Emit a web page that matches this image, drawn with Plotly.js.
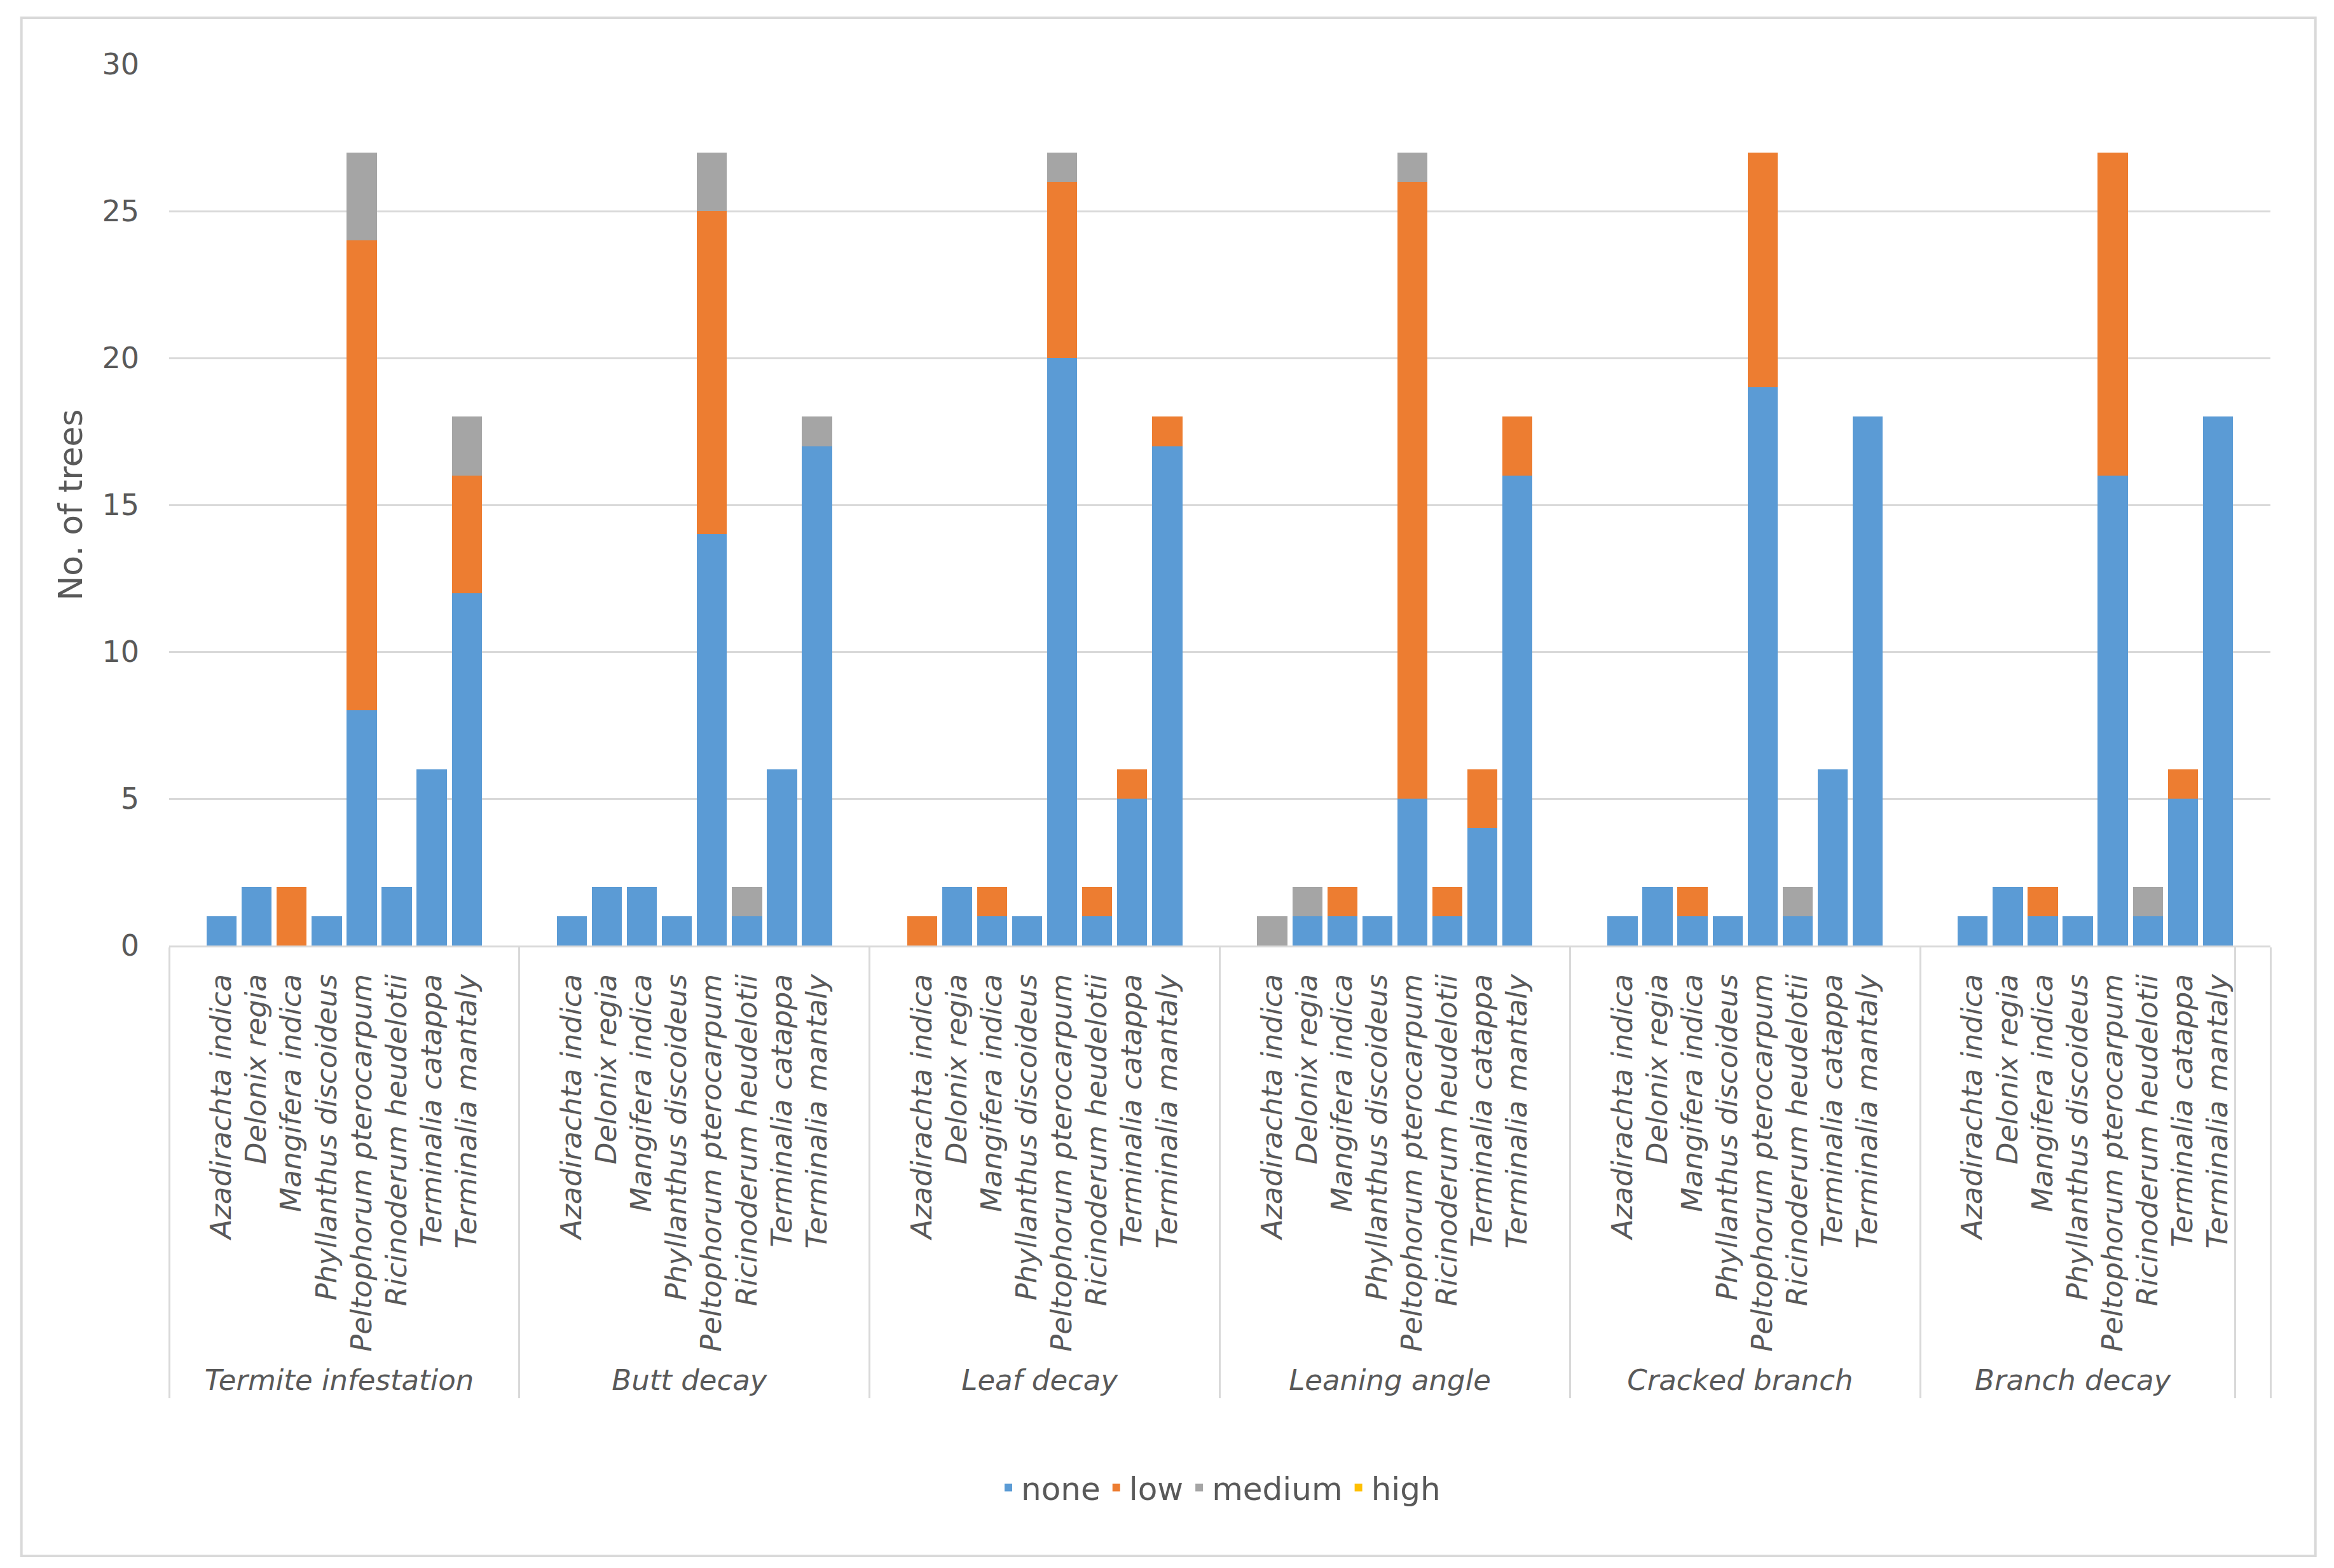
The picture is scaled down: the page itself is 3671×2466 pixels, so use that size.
<!DOCTYPE html>
<html>
<head>
<meta charset="utf-8">
<script src="https://cdn.plot.ly/plotly-3.0.1.min.js"></script>
<style>
html,body{margin:0;padding:0;background:#fff;}
#chart{width:3671px;height:2466px;}
</style>
</head>
<body>
<div id="chart"></div>
<script>
// Categories
const species = ["Azadirachta indica", "Delonix regia", "Mangifera indica", "Phyllanthus discoideus",
  "Peltophorum pterocarpum", "Ricinoderum heudelotii", "Terminalia catappa", "Terminalia mantaly"];
const groups = ["Termite infestation", "Butt decay", "Leaf decay", "Leaning angle", "Cracked branch", "Branch decay"];
const levels = ["none", "low", "medium", "high"];

// Series values: one row of 8 species per group
const noneVals = [
  [1, 2, 0, 1, 8, 2, 6, 12],    // Termite infestation
  [1, 2, 2, 1, 14, 1, 6, 17],   // Butt decay
  [0, 2, 1, 1, 20, 1, 5, 17],   // Leaf decay
  [0, 1, 1, 1, 5, 1, 4, 16],    // Leaning angle
  [1, 2, 1, 1, 19, 1, 6, 18],   // Cracked branch
  [1, 2, 1, 1, 16, 1, 5, 18]    // Branch decay
];
const lowVals = [
  [0, 0, 2, 0, 16, 0, 0, 4],
  [0, 0, 0, 0, 11, 0, 0, 0],
  [1, 0, 1, 0, 6, 1, 1, 1],
  [0, 0, 1, 0, 21, 1, 2, 2],
  [0, 0, 1, 0, 8, 0, 0, 0],
  [0, 0, 1, 0, 11, 0, 1, 0]
];
const mediumVals = [
  [0, 0, 0, 0, 3, 0, 0, 2],
  [0, 0, 0, 0, 2, 1, 0, 1],
  [0, 0, 0, 0, 1, 0, 0, 0],
  [1, 1, 0, 0, 1, 0, 0, 0],
  [0, 0, 0, 0, 0, 1, 0, 0],
  [0, 0, 0, 0, 0, 1, 0, 0]
];
const highVals = [
  [0, 0, 0, 0, 0, 0, 0, 0],
  [0, 0, 0, 0, 0, 0, 0, 0],
  [0, 0, 0, 0, 0, 0, 0, 0],
  [0, 0, 0, 0, 0, 0, 0, 0],
  [0, 0, 0, 0, 0, 0, 0, 0],
  [0, 0, 0, 0, 0, 0, 0, 0]
];
const colors = ["#5B9BD5", "#ED7D31", "#A5A5A5", "#FFC000"];

// Build the multicategory axis (with blank slots as in the original spreadsheet layout)
function build(vals) {
  const outer = [], inner = [], y = [];
  groups.forEach((g, gi) => {
    outer.push(g); inner.push(" "); y.push(null);
    species.forEach((s, si) => { outer.push(g); inner.push(s); y.push(vals[gi][si] || null); });
    if (gi < groups.length - 1) { outer.push(g); inner.push("  "); y.push(null); }
  });
  outer.push("   "); inner.push(" "); y.push(null);
  return { x: [outer, inner], y: y };
}

const series = [noneVals, lowVals, mediumVals, highVals];
const traces = series.map((vals, i) => {
  const b = build(vals);
  return {
    type: "bar", name: levels[i], x: b.x, y: b.y,
    marker: { color: colors[i], line: { width: 0 } }
  };
});

const font = "'DejaVu Sans', sans-serif";
const layout = {
  width: 3671, height: 2466,
  barmode: "stack", bargap: 0.14,
  paper_bgcolor: "#ffffff", plot_bgcolor: "#ffffff",
  margin: { l: 266, r: 100, t: 101, b: 979 },
  font: { family: font, color: "#595959", size: 46 },
  showlegend: true,
  legend: {
    orientation: "h", x: 0.5, xanchor: "center", xref: "paper",
    y: -0.615, yanchor: "middle",
    font: { size: 50, color: "#595959", family: font },
    traceorder: "normal"
  },
  xaxis: {
    type: "multicategory",
    tickangle: -90,
    tickfont: { size: 45, style: "italic", color: "#595959", family: font },
    showline: true, linecolor: "#D9D9D9", linewidth: 3,
    showdividers: true, dividercolor: "#D9D9D9", dividerwidth: 3,
    ticks: "", showgrid: false,
    ticklabelstandoff: 24
  },
  yaxis: {
    range: [0, 30], dtick: 5, tick0: 0,
    showgrid: true, gridcolor: "#D9D9D9", gridwidth: 3,
    zeroline: false, showline: false, ticks: "",
    tickfont: { size: 46, color: "#595959", family: font },
    ticklabelstandoff: 46,
    title: { text: "No. of trees", font: { size: 52, color: "#595959", family: font }, standoff: 14 }
  },
  shapes: [{
    type: "rect", xref: "paper", yref: "paper",
    x0: -0.0703, x1: 1.0214, y0: -0.6926, y1: 1.0527,
    line: { color: "#D9D9D9", width: 4 }, fillcolor: "rgba(0,0,0,0)", layer: "below"
  }]
};

Plotly.newPlot("chart", traces, layout, { staticPlot: true, displayModeBar: false });
</script>
</body>
</html>
